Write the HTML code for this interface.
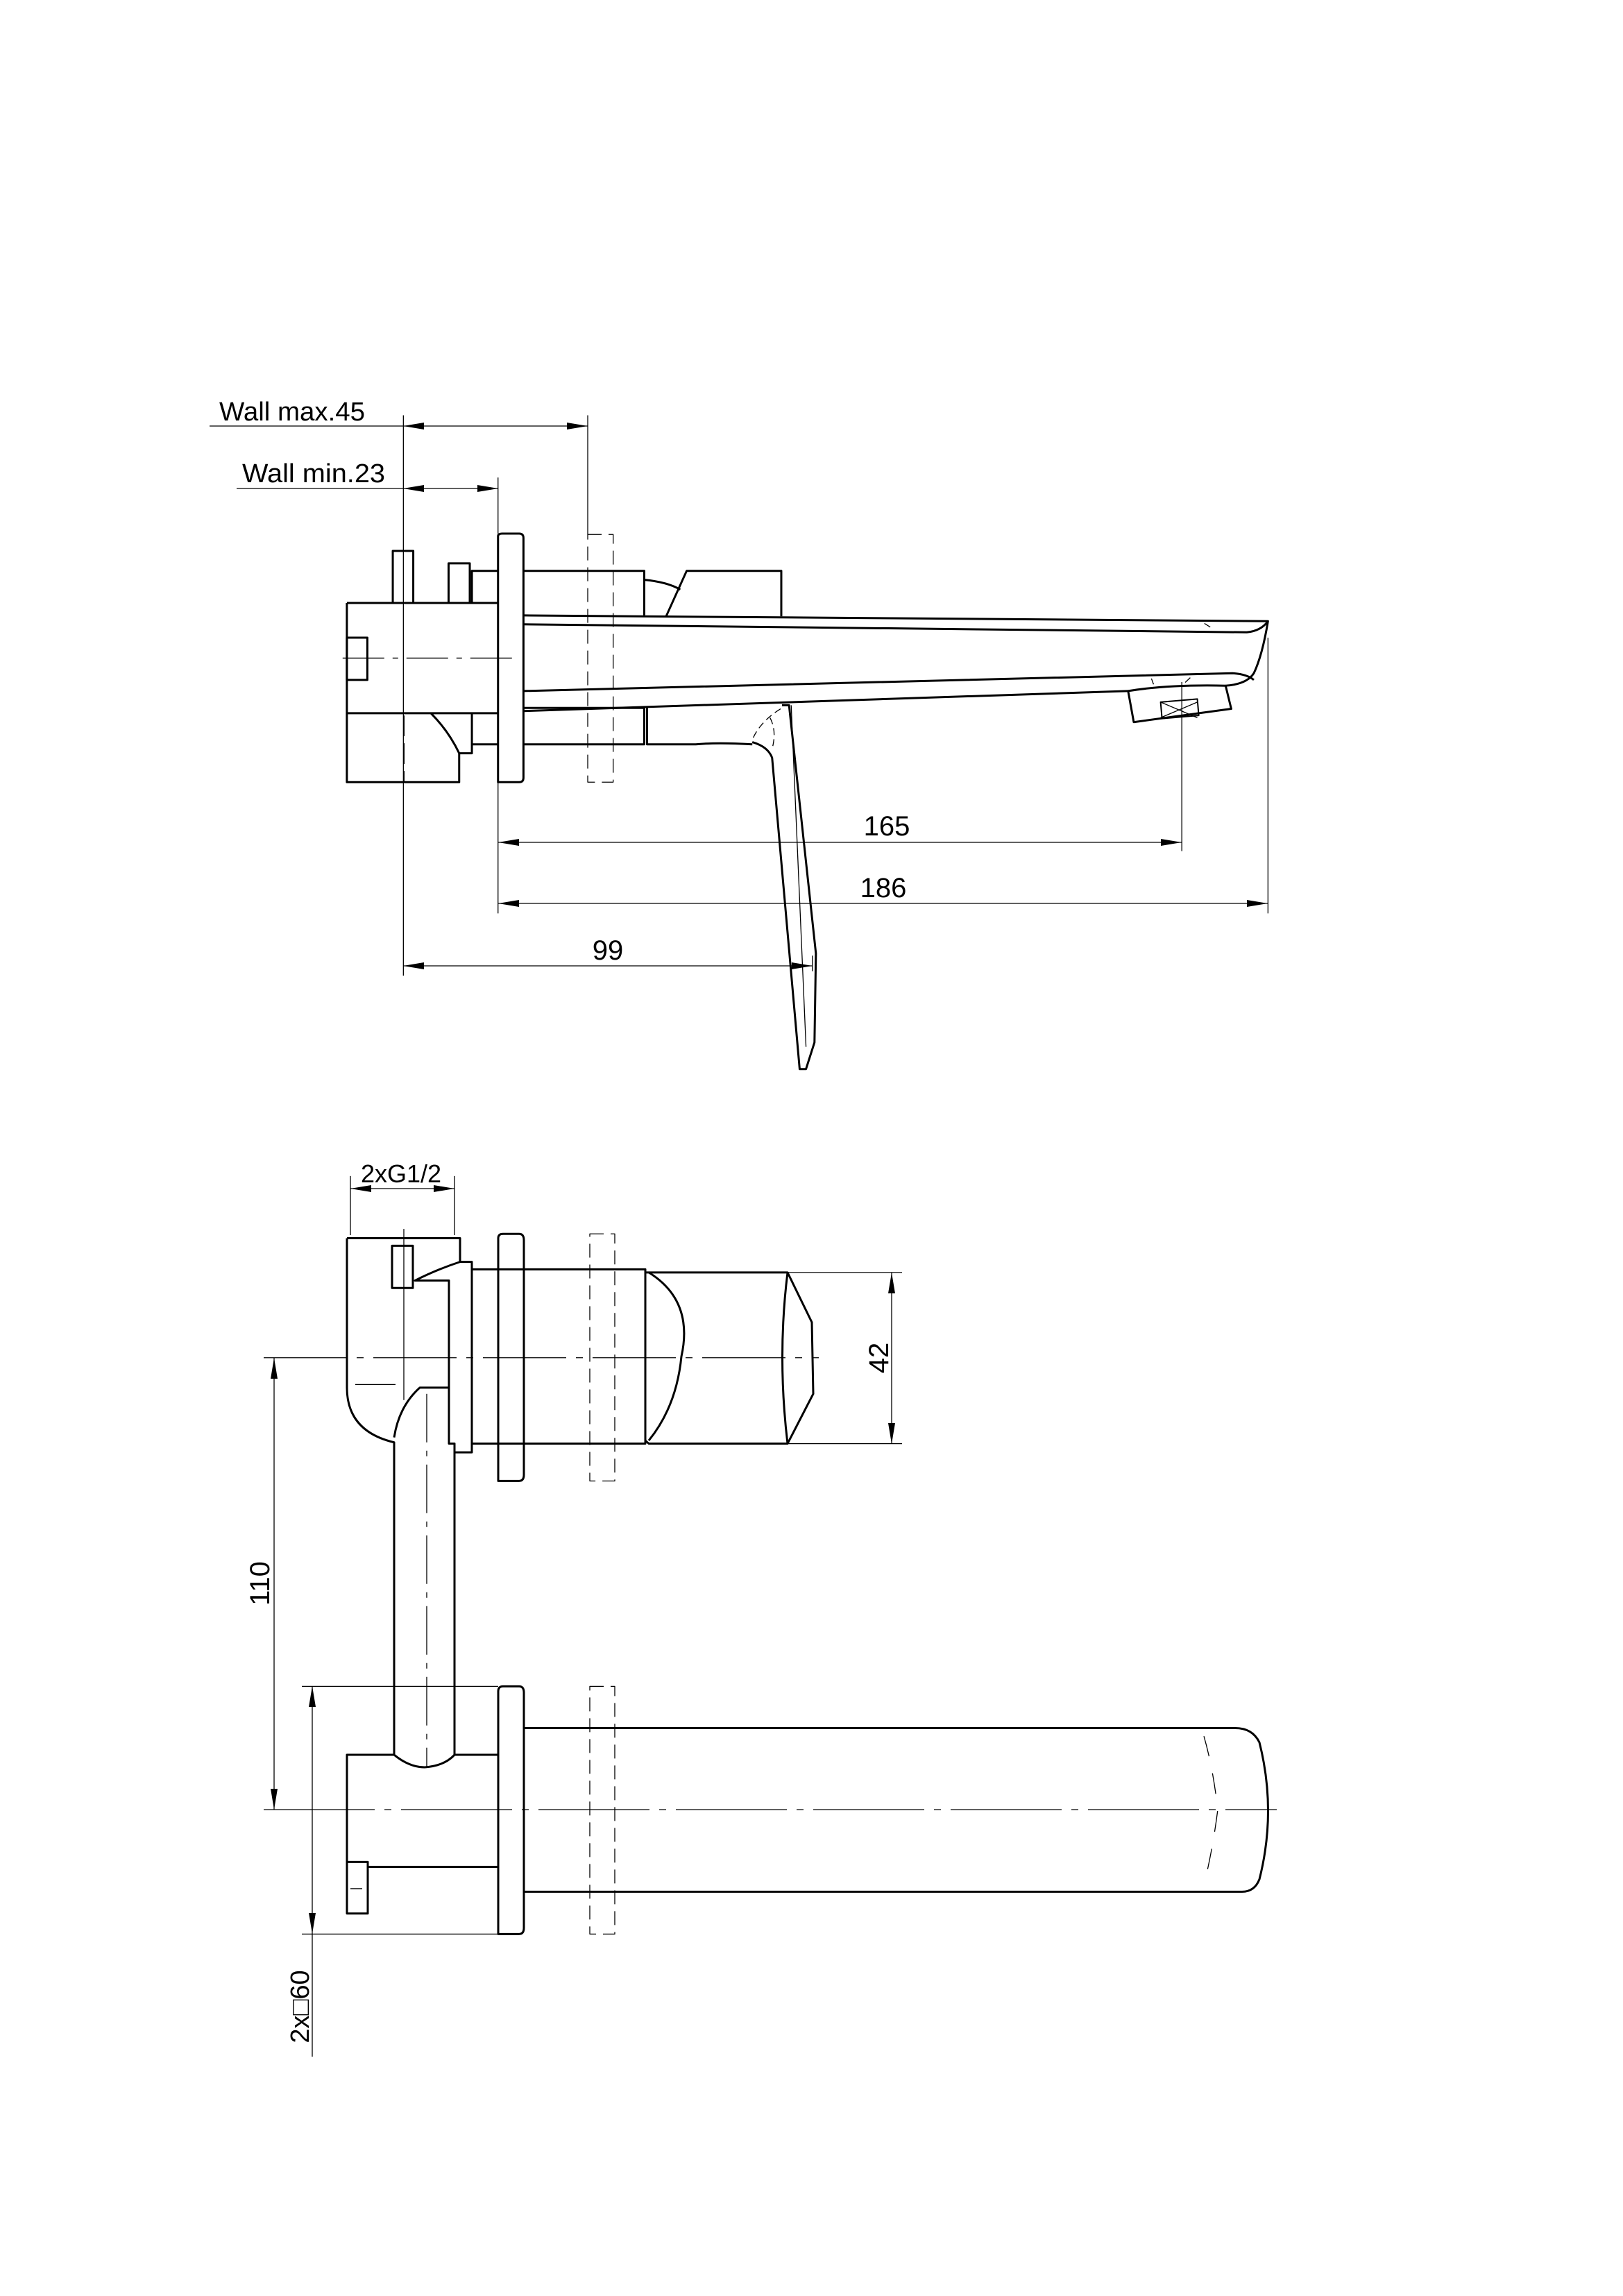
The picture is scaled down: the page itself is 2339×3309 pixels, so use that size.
<!DOCTYPE html>
<html><head><meta charset="utf-8"><style>
html,body{margin:0;padding:0;background:#fff;}
svg{display:block;}
text{font-family:"Liberation Sans",sans-serif;fill:#000;stroke:none;}
.g *{vector-effect:non-scaling-stroke;}
</style></head><body>
<svg width="2339" height="3309" viewBox="0 0 2339 3309" xmlns="http://www.w3.org/2000/svg">
<defs>
<marker id="ar" viewBox="0 0 30 10" refX="30" refY="5" markerWidth="30" markerHeight="10" markerUnits="userSpaceOnUse" orient="auto-start-reverse"><path d="M0,0 L30,5 L0,10 z" fill="#000"/></marker>
</defs>
<!-- TOP VIEW -->
<g class="g" transform="translate(280,560) scale(1.018,0.641)" fill="none" stroke="#000" stroke-linejoin="round">
 <g stroke-width="1.3">
  <line x1="296" y1="60" x2="296" y2="1320"/>
  <line x1="557" y1="60" x2="557" y2="328"/>
  <line x1="430" y1="200" x2="430" y2="326"/>
  <line x1="430" y1="885" x2="430" y2="1180"/>
  <line x1="1398" y1="660" x2="1398" y2="1040"/>
  <line x1="1520" y1="560" x2="1520" y2="1180"/>
  <line x1="875" y1="1275" x2="875" y2="1310"/>
  <line x1="210" y1="606" x2="455" y2="606" stroke-dasharray="60,12,8,12"/>
  <rect x="557" y="328" width="36" height="557" stroke-dasharray="20,10"/>
  <line x1="1368" y1="705" x2="1420" y2="740"/><line x1="1368" y1="740" x2="1420" y2="705"/>
  <line x1="297" y1="735" x2="297" y2="885" stroke-dasharray="30,10"/>
  <path d="M845,712 L866,1480"/>
  <path d="M830,720 Q800,750 790,790 M815,740 Q825,770 818,810 M1430,528 L1442,540 M1355,652 L1358,665 M1410,650 L1402,662" stroke-dasharray="10,6"/>
 </g>
 <g stroke-width="3">
  <path d="M430,332 Q430,326 436,326 L460,326 Q466,326 466,336 L466,875 Q466,885 460,885 L430,885 Z"/>
  <rect x="281" y="365" width="29" height="117"/>
  <rect x="360" y="393" width="30" height="89"/>
  <path d="M216,482 L430,482 M216,482 L216,885 L375,885 L375,820 L393,820 L393,730 M216,730 L430,730 M335,730 Q360,770 375,820"/>
  <rect x="216" y="560" width="29" height="95"/>
  <path d="M393,482 L393,410 L430,410 M466,410 L637,410 L637,510"/>
  <path d="M466,718 L637,718 L637,800 L466,800 M393,800 L430,800"/>
  <path d="M637,430 Q670,435 688,452"/>
  <path d="M668,512 L697,410 L831,410 L831,512"/>
  <path d="M466,510 L1520,523 Q1512,600 1500,640 Q1490,665 1460,668"/>
  <path d="M466,530 L1490,548 Q1510,545 1520,523"/>
  <path d="M466,680 L1470,640 Q1490,642 1500,655"/>
  <path d="M466,725 L1322,680"/>
  <path d="M1322,680 Q1380,665 1460,668 L1468,720 L1330,750 Z"/>
  <path d="M1368,705 L1420,698 L1422,735 L1370,742 Z" stroke-width="2"/>
  <path d="M641,718 L641,800 L710,800 Q740,795 790,800"/>
  <path d="M832,712 L842,712 L880,1270 L878,1470 L866,1530 L857,1530 L818,830 Q812,805 790,795"/>
 </g>
</g>
<g fill="none" stroke="#000" stroke-width="1.3">
 <line x1="302" y1="614" x2="581" y2="614"/>
 <line x1="581" y1="614" x2="847" y2="614" marker-start="url(#ar)" marker-end="url(#ar)"/>
 <line x1="341" y1="704" x2="581" y2="704"/>
 <line x1="581" y1="704" x2="718" y2="704" marker-start="url(#ar)" marker-end="url(#ar)"/>
 <line x1="718" y1="1214" x2="1703" y2="1214" marker-start="url(#ar)" marker-end="url(#ar)"/>
 <line x1="718" y1="1302" x2="1827" y2="1302" marker-start="url(#ar)" marker-end="url(#ar)"/>
 <line x1="581" y1="1392" x2="1171" y2="1392" marker-start="url(#ar)" marker-end="url(#ar)"/>
</g>
<text x="316" y="606" font-size="38" textLength="210" lengthAdjust="spacingAndGlyphs">Wall max.45</text>
<text x="349" y="695" font-size="38" textLength="206" lengthAdjust="spacingAndGlyphs">Wall min.23</text>
<text x="1278" y="1204" font-size="40" text-anchor="middle">165</text>
<text x="1273" y="1293" font-size="40" text-anchor="middle">186</text>
<text x="876" y="1383" font-size="40" text-anchor="middle">99</text>

<!-- SIDE VIEW -->
<g class="g" transform="translate(350,1650) scale(1,0.897)" fill="none" stroke="#000" stroke-linejoin="round">
 <g stroke-width="1.3">
  <line x1="155" y1="50" x2="155" y2="145"/><line x1="305" y1="50" x2="305" y2="145"/>
  <line x1="30" y1="342" x2="830" y2="342" stroke-dasharray="120,14,10,14"/>
  <line x1="30" y1="1068" x2="1490" y2="1068" stroke-dasharray="160,14,10,14"/>
  <line x1="785" y1="205" x2="950" y2="205"/><line x1="785" y1="480" x2="950" y2="480"/>
  <line x1="85" y1="870" x2="368" y2="870"/><line x1="85" y1="1268" x2="368" y2="1268"/>
  <line x1="100" y1="1268" x2="100" y2="1465"/>
  <line x1="232" y1="135" x2="232" y2="410"/>
  <line x1="162" y1="385" x2="220" y2="385"/>
  <line x1="265" y1="400" x2="265" y2="1000" stroke-dasharray="70,12,8,12"/>
  <rect x="500" y="143" width="36" height="397" stroke-dasharray="20,10"/>
  <rect x="500" y="870" width="36" height="398" stroke-dasharray="20,10"/>
  <path d="M1385,950 Q1398,1000 1405,1068 Q1398,1130 1385,1190" stroke-dasharray="30,25"/>
  <line x1="155" y1="1195" x2="172" y2="1195"/>
 </g>
 <g stroke-width="3">
  <path d="M150,150 L313,150 L313,188 L330,188 L330,494 L305,494 L305,480 L297,480 L297,218 L248,218 Q280,200 313,188"/>
  <path d="M150,150 L150,390 Q150,460 218,478 L218,980"/>
  <path d="M218,470 Q225,420 255,390 L297,390"/>
  <path d="M305,494 L305,980"/>
  <rect x="215" y="162" width="30" height="68"/>
  <path d="M368,150 Q368,143 375,143 L398,143 Q405,143 405,153 L405,530 Q405,540 398,540 L368,540 Z"/>
  <path d="M330,200 L580,200 L580,480 L330,480"/>
  <path d="M580,205 L585,205 L785,205 L820,285 L822,400 L785,480 L585,480 L580,475"/>
  <path d="M585,205 Q650,250 632,340 Q625,420 585,475"/>
  <path d="M785,205 Q770,340 785,480"/>
  <path d="M368,878 Q368,870 375,870 L398,870 Q405,870 405,880 L405,1258 Q405,1268 398,1268 L368,1268 Z"/>
  <path d="M405,937 L1430,937 Q1455,937 1465,960 Q1490,1070 1465,1180 Q1458,1200 1440,1200 L405,1200"/>
  <path d="M150,1152 L150,980 L218,980 Q240,1000 262,1000 Q290,998 305,980 L368,980"/>
  <path d="M180,1160 L368,1160"/>
  <rect x="150" y="1152" width="30" height="83"/>
 </g>
</g>
<g fill="none" stroke="#000" stroke-width="1.3">
 <line x1="505" y1="1713" x2="655" y2="1713" marker-start="url(#ar)" marker-end="url(#ar)"/>
 <line x1="1285" y1="1834" x2="1285" y2="2081" marker-start="url(#ar)" marker-end="url(#ar)"/>
 <line x1="395" y1="1957" x2="395" y2="2608" marker-start="url(#ar)" marker-end="url(#ar)"/>
 <line x1="450" y1="2430" x2="450" y2="2787" marker-start="url(#ar)" marker-end="url(#ar)"/>
</g>
<text x="578" y="1704" font-size="36" text-anchor="middle">2xG1/2</text>
<text font-size="40" text-anchor="middle" transform="translate(1280,1957) rotate(-90)">42</text>
<text font-size="40" text-anchor="middle" transform="translate(388,2282) rotate(-90)">110</text>
<text font-size="38" text-anchor="middle" transform="translate(445,2892) rotate(-90)">2x□60</text>
</svg>
</body></html>
